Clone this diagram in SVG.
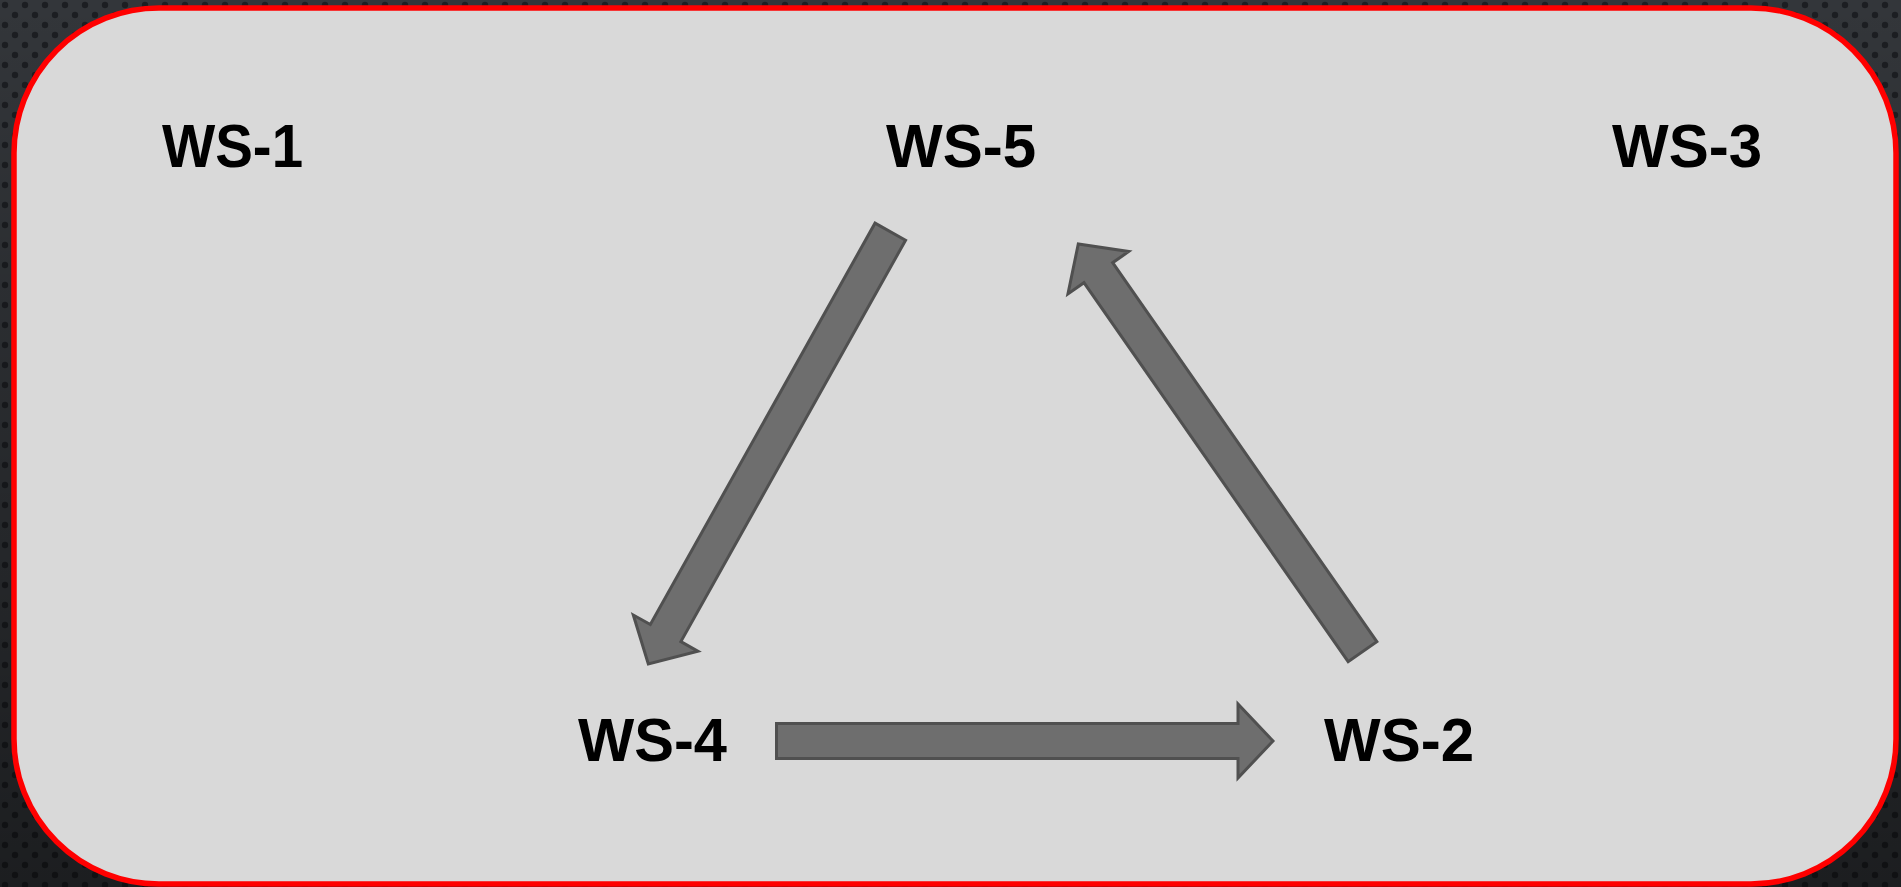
<svg xmlns="http://www.w3.org/2000/svg" width="1901" height="887" viewBox="0 0 1901 887">
<defs>
<pattern id="dots" width="20" height="20" patternUnits="userSpaceOnUse">
<rect width="20" height="20" fill="#33363a"/>
<circle cx="5" cy="5" r="3.2" fill="#1c1e22"/>
<circle cx="15" cy="15" r="3.2" fill="#1c1e22"/>
</pattern>
<linearGradient id="shade" x1="0" y1="0" x2="0" y2="1">
<stop offset="0" stop-color="#000" stop-opacity="0"/>
<stop offset="1" stop-color="#000" stop-opacity="0.45"/>
</linearGradient>
</defs>
<style>
.lbl{font-family:"Liberation Sans",Arial,sans-serif;font-weight:bold;font-size:62px;fill:#000}
.arr{fill:#6e6e6e;stroke:#505050;stroke-width:3;stroke-linejoin:miter}
</style>
<rect width="1901" height="887" fill="url(#dots)"/>
<rect width="1901" height="887" fill="url(#shade)"/>
<rect x="14" y="8" width="1882" height="876" rx="145" ry="145" fill="#d9d9d9" stroke="#ff0000" stroke-width="5.5"/>
<g id="ws1"><text class="lbl" x="162" y="167" textLength="141" lengthAdjust="spacingAndGlyphs">WS-1</text></g>
<g id="ws5"><text class="lbl" x="886" y="167" textLength="150" lengthAdjust="spacingAndGlyphs">WS-5</text></g>
<g id="ws3"><text class="lbl" x="1612" y="167" textLength="150" lengthAdjust="spacingAndGlyphs">WS-3</text></g>
<g id="ws4"><text class="lbl" x="578" y="761" textLength="149" lengthAdjust="spacingAndGlyphs">WS-4</text></g>
<g id="ws2"><text class="lbl" x="1324" y="761" textLength="150" lengthAdjust="spacingAndGlyphs">WS-2</text></g>
<g id="connectors">
<path class="arr" d="M776.5,723.5 L1238,723.5 L1238,704 L1273,741 L1238,778 L1238,758.5 L776.5,758.5 Z"/>
<path class="arr" transform="translate(890.3,231.7) rotate(119.24)" d="M0,-17.5 L460,-17.5 L460,-37 L495.4,0 L460,37 L460,17.5 L0,17.5 Z"/>
<path class="arr" transform="translate(1362.5,651.7) rotate(-124.88)" d="M0,-17.5 L462,-17.5 L462,-37 L497,0 L462,37 L462,17.5 L0,17.5 Z"/>
</g>
</svg>
